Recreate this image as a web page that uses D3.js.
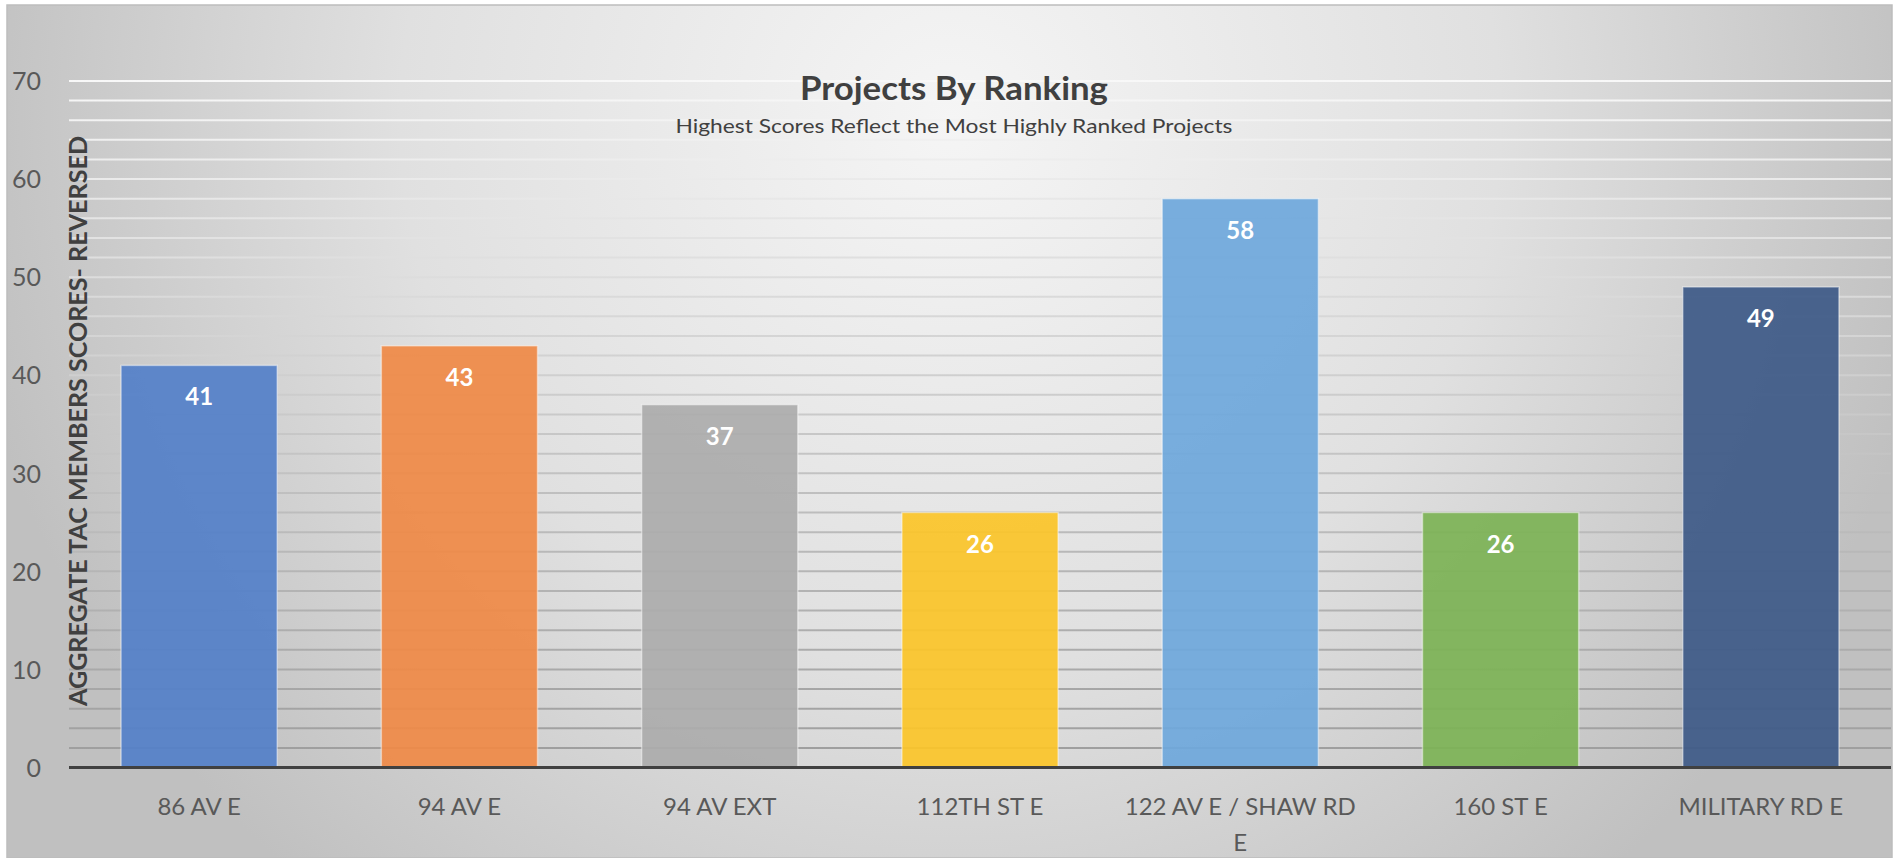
<!DOCTYPE html>
<html><head><meta charset="utf-8">
<script src="https://cdn.jsdelivr.net/npm/d3@7"></script>
<style>html,body{margin:0;padding:0;background:#fff;overflow:hidden}</style>
</head><body>
<svg id="chart" width="1902" height="858"></svg>
<script>
const categories = ["86 AV E","94 AV E","94 AV EXT","112TH ST E","122 AV E / SHAW RD E","160 ST E","MILITARY RD E"];
const scores = [41,43,37,26,58,26,49];
const barColors = ["#5480c8","#ef8a47","#acacac","#fbc52a","#6fa8db","#7db356","#3e5a88"];
const yTicks = [0,10,20,30,40,50,60,70];
const title = "Projects By Ranking";
const subtitle = "Highest Scores Reflect the Most Highly Ranked Projects";
const yTitle = "AGGREGATE TAC MEMBERS SCORES- REVERSED";

const svg = d3.select("#chart");
const defs = svg.append("defs");
const bg = defs.append("radialGradient").attr("id","bg").attr("gradientUnits","userSpaceOnUse")
  .attr("cx",950).attr("cy",120).attr("r",1000);
bg.append("stop").attr("offset","0").attr("stop-color","#f5f5f5");
bg.append("stop").attr("offset","0.55").attr("stop-color","#e0e0e0");
bg.append("stop").attr("offset","1").attr("stop-color","#c0c0c0");
const gl = defs.append("linearGradient").attr("id","grid").attr("gradientUnits","userSpaceOnUse")
  .attr("x1",0).attr("y1",80).attr("x2",0).attr("y2",770);
gl.append("stop").attr("offset","0").attr("stop-color","#f8f8f8");
gl.append("stop").attr("offset","0.5").attr("stop-color","#c8c8c8");
gl.append("stop").attr("offset","1").attr("stop-color","#9c9c9c");

svg.append("rect").attr("x",7).attr("y",5).attr("width",1885).attr("height",853)
  .attr("fill","url(#bg)").attr("stroke","#bdbdbd").attr("stroke-width",1.5);

const x = d3.scaleBand().domain(categories).range([69,1891]).paddingInner(0.4).paddingOuter(0.2);
const y = d3.scaleLinear().domain([0,70]).range([767.5,81]);

// gridlines every 2 units
const gridVals = d3.range(2,71,2);
svg.append("g").selectAll("line").data(gridVals).join("line")
  .attr("x1",69).attr("x2",1891).attr("y1",d=>y(d)).attr("y2",d=>y(d))
  .attr("stroke","url(#grid)").attr("stroke-width",2);

// bars
svg.append("g").selectAll("rect").data(scores).join("rect")
  .attr("x",(d,i)=>x(categories[i])).attr("width",x.bandwidth())
  .attr("y",d=>y(d)).attr("height",d=>y(0)-y(d))
  .attr("fill",(d,i)=>barColors[i]).attr("fill-opacity",0.93)
  .attr("stroke","rgba(255,255,255,0.45)").attr("stroke-width",1.5);

// value labels
svg.append("g").selectAll("text").data(scores).join("text")
  .attr("x",(d,i)=>x(categories[i])+x.bandwidth()/2).attr("y",d=>y(d)+40)
  .attr("text-anchor","middle").attr("fill","#ffffff")
  .attr("font-family","Lato, 'Open Sans', sans-serif").attr("font-weight","bold").attr("font-size",24)
  .text(d=>d);

// baseline
svg.append("line").attr("x1",69).attr("x2",1891).attr("y1",y(0)).attr("y2",y(0))
  .attr("stroke","#404040").attr("stroke-width",3);

// y axis
const yAxis = d3.axisLeft(y).tickValues(yTicks).tickSize(0).tickPadding(0);
const ya = svg.append("g").attr("transform","translate(41,0)").call(yAxis);
ya.select(".domain").remove();
ya.selectAll("text").attr("font-family","Lato, 'Open Sans', sans-serif").attr("font-size",25)
  .attr("fill","#595959").attr("dy","0.35em");

// x axis labels
const xa = svg.append("g").attr("transform",`translate(0,${y(0)})`)
  .call(d3.axisBottom(x).tickSize(0).tickFormat(""));
xa.select(".domain").remove();
const xl = svg.append("g").selectAll("text").data(categories).join("text")
  .attr("x",d=>x(d)+x.bandwidth()/2).attr("y",815)
  .attr("text-anchor","middle").attr("fill","#595959")
  .attr("font-family","Lato, 'Open Sans', sans-serif").attr("font-size",24);
xl.each(function(d){
  const t = d3.select(this);
  const lines = d === "122 AV E / SHAW RD E" ? ["122 AV E / SHAW RD","E"] : [d];
  lines.forEach((ln,k)=>t.append("tspan").attr("x",x(d)+x.bandwidth()/2).attr("dy",k===0?0:36).text(ln));
});

// titles
svg.append("text").attr("x",954).attr("y",100).attr("text-anchor","middle")
  .attr("font-family","Lato, 'Open Sans', sans-serif").attr("font-weight","bold").attr("font-size",33)
  .attr("textLength",308).attr("lengthAdjust","spacingAndGlyphs")
  .attr("fill","#404040").text(title);
svg.append("text").attr("x",954).attr("y",133).attr("text-anchor","middle")
  .attr("font-family","Lato, 'Open Sans', sans-serif").attr("font-size",20)
  .attr("textLength",557).attr("lengthAdjust","spacingAndGlyphs")
  .attr("fill","#404040").text(subtitle);

svg.append("text").attr("transform","translate(87,421) rotate(-90)").attr("text-anchor","middle")
  .attr("font-family","Lato, 'Open Sans', sans-serif").attr("font-weight","bold").attr("font-size",25)
  .attr("textLength",570).attr("lengthAdjust","spacingAndGlyphs")
  .attr("fill","#404040").text(yTitle);
</script>
</body></html>
